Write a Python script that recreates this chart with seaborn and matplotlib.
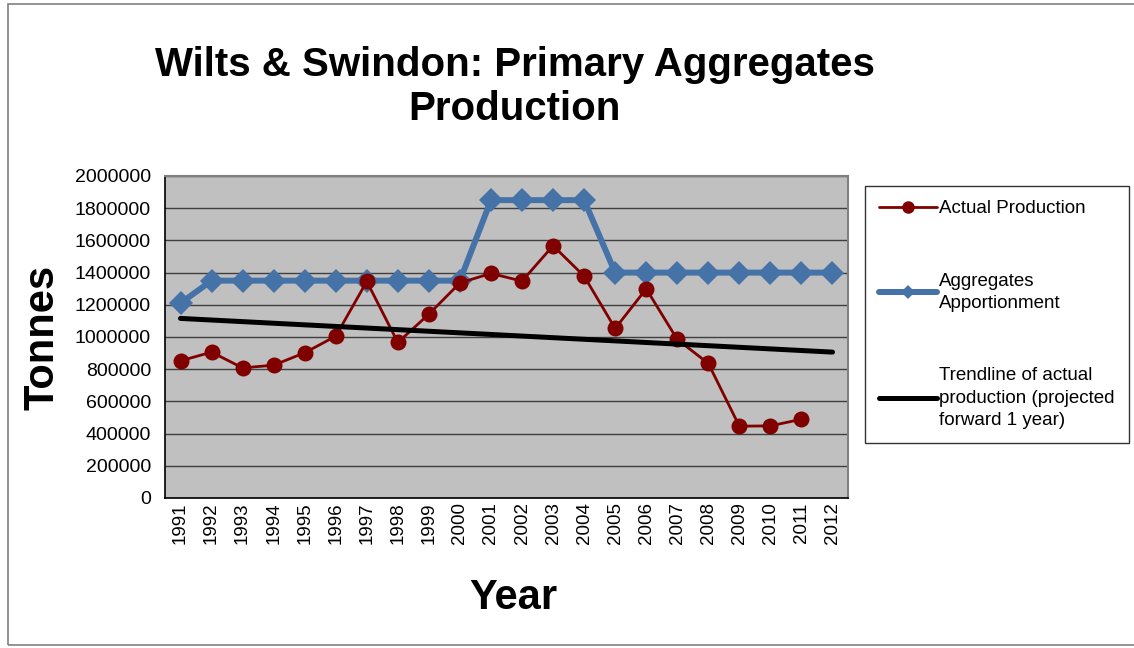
import numpy as np
import pandas as pd
import seaborn as sns
import matplotlib
matplotlib.use("Agg")
import matplotlib.pyplot as plt
from matplotlib.lines import Line2D
from matplotlib.patches import Rectangle
from matplotlib.ticker import FuncFormatter, MultipleLocator

# Annual figures (tonnes)
years = list(range(1991, 2013))
actual_years = list(range(1991, 2012))
actual_production = [852000, 906000, 808000, 825000, 902000, 1005000, 1345000,
                     966000, 1142000, 1336000, 1395000, 1347000, 1567000, 1378000,
                     1053000, 1299000, 985000, 836000, 446000, 448000, 489000]
apportionment = [1210000, 1350000, 1350000, 1350000, 1350000, 1350000, 1350000,
                 1350000, 1350000, 1350000, 1850000, 1850000, 1850000, 1850000,
                 1400000, 1400000, 1400000, 1400000, 1400000, 1400000, 1400000,
                 1400000]

title = "Wilts & Swindon: Primary Aggregates\nProduction"
series_names = ["Actual Production", "Aggregates\nApportionment",
                "Trendline of actual\nproduction (projected\nforward 1 year)"]

sns.set_style("white")
plt.rcParams["font.family"] = ["Liberation Sans", "DejaVu Sans"]
plt.rcParams["text.color"] = "black"
plt.rcParams["axes.labelcolor"] = "black"
plt.rcParams["xtick.color"] = "black"
plt.rcParams["ytick.color"] = "black"

actual_df = pd.DataFrame({"Year": actual_years, "Tonnes": actual_production})
appo_df = pd.DataFrame({"Year": years, "Tonnes": apportionment})

# linear trend of actual production, extended one year forward
slope, intercept = np.polyfit(actual_years, actual_production, 1)
trend_df = pd.DataFrame({"Year": [years[0], years[-1]]})
trend_df["Tonnes"] = slope * trend_df["Year"] + intercept

fig = plt.figure(figsize=(11.34, 6.48), dpi=100)
ax = fig.add_axes([0.1455, 0.2315, 0.6023, 0.4969])
ax.set_facecolor("#C0C0C0")

red = "#800000"
blue = "#4572A7"

sns.lineplot(data=appo_df, x="Year", y="Tonnes", ax=ax, color=blue,
             linewidth=4.3, marker="D", markersize=12, markeredgewidth=0,
             zorder=3)
sns.lineplot(data=actual_df, x="Year", y="Tonnes", ax=ax, color=red,
             linewidth=2.0, marker="o", markersize=11.5, markeredgewidth=0,
             zorder=4)
sns.lineplot(data=trend_df, x="Year", y="Tonnes", ax=ax, color="black",
             linewidth=3.6, zorder=5)

ax.set_xlim(years[0] - 0.5, years[-1] + 0.5)
ax.set_ylim(0, 2000000)
ax.yaxis.set_major_locator(MultipleLocator(200000))
ax.yaxis.set_major_formatter(FuncFormatter(lambda v, p: f"{int(round(v))}"))
ax.set_xticks(years)
ax.set_xticklabels([str(y) for y in years], rotation=90)
ax.set_xticks([y - 0.5 for y in years] + [years[-1] + 0.5], minor=True)
ax.tick_params(axis="x", which="major", length=0, labelsize=13.5, pad=3)
ax.tick_params(axis="x", which="minor", length=6, width=1, color="black",
               direction="out")
ax.tick_params(axis="y", which="major", length=6, width=1, color="black",
               direction="out", labelsize=14, pad=4)

ax.grid(axis="y", color="#3F3F3F", linewidth=1)
ax.grid(axis="x", visible=False)
ax.set_axisbelow(True)

for side in ["top", "right"]:
    ax.spines[side].set_color("#808080")
    ax.spines[side].set_linewidth(1.5)
for side in ["left", "bottom"]:
    ax.spines[side].set_color("black")
    ax.spines[side].set_linewidth(1.2)

ax.set_xlabel("")
ax.set_ylabel("")
fig.text(513 / 1134, 1 - 598 / 648, "Year", ha="center", va="center",
         fontsize=30, fontweight="bold")
fig.text(42 / 1134, 1 - 337 / 648, "Tonnes", ha="center", va="center",
         rotation=90, fontsize=30, fontweight="bold")

fig.text(0.454, 1 - 87 / 648, title, ha="center", va="center",
         fontsize=29, fontweight="bold", linespacing=1.17)

handles = [
    Line2D([], [], color=red, linewidth=2.0, marker="o", markersize=9,
           markeredgewidth=0),
    Line2D([], [], color=blue, linewidth=4.3, marker="D", markersize=7,
           markeredgewidth=0),
    Line2D([], [], color="black", linewidth=3.6),
]
leg = fig.legend(handles, series_names, loc="upper left",
                 bbox_to_anchor=(865 / 1134, 1 - 186 / 648),
                 fontsize=13.5, frameon=True, fancybox=False,
                 edgecolor="black", labelspacing=2.95, handlelength=3.1,
                 handletextpad=0.1, borderpad=0.75, borderaxespad=0)
leg.get_frame().set_linewidth(1.0)
for t in leg.get_texts():
    t.set_linespacing(1.42)

# outer chart border
fig.patches.append(Rectangle((8 / 1134, 3 / 648), 1.2, 1 - 7 / 648,
                             transform=fig.transFigure, fill=False,
                             edgecolor="#808080", linewidth=1.2))

fig.savefig("out.png", dpi=100)
